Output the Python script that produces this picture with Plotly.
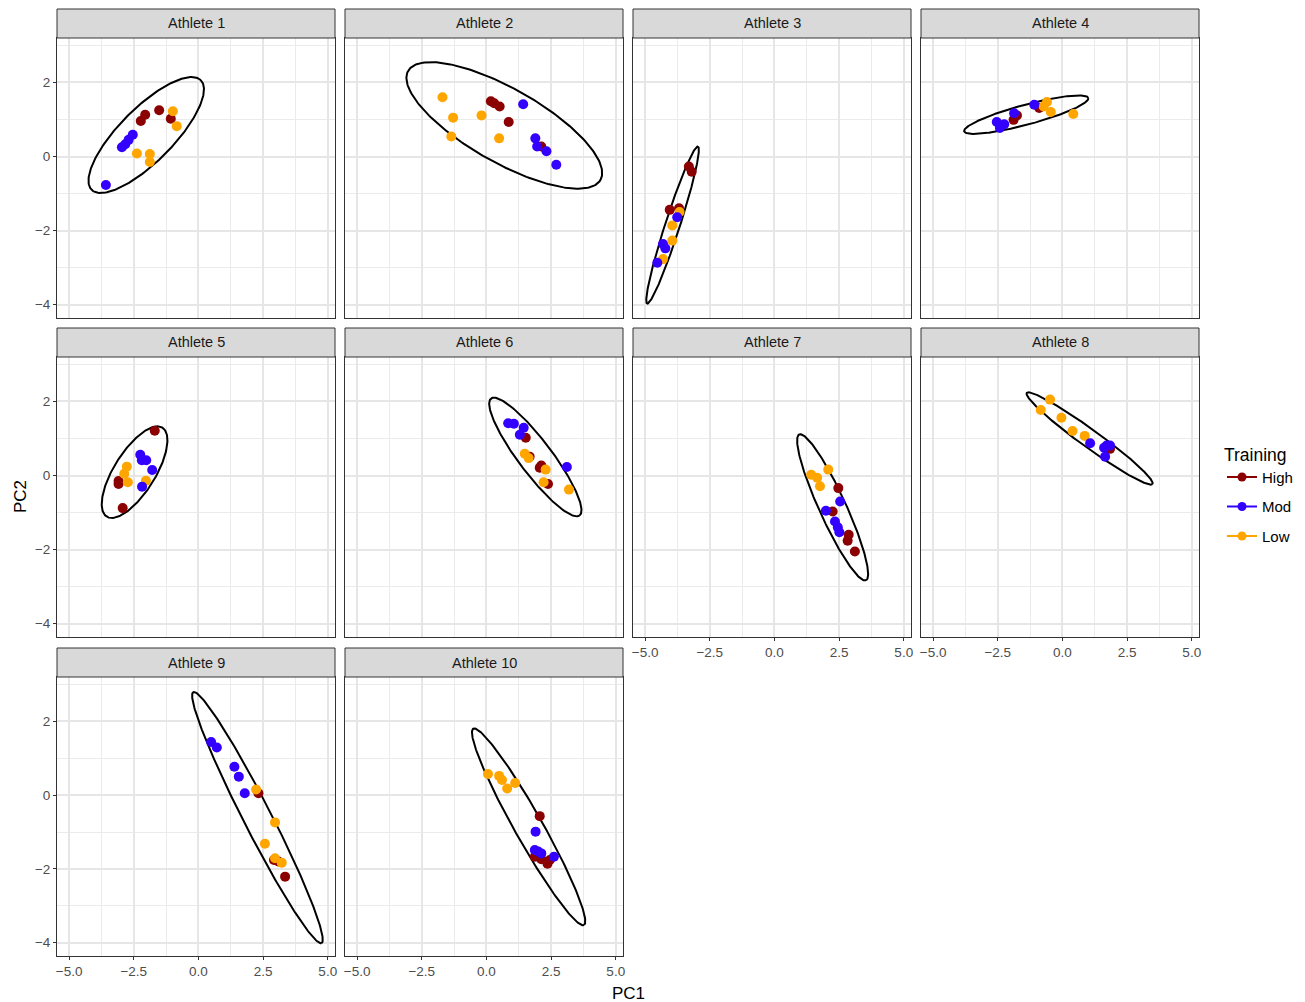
import numpy as np
import plotly.graph_objects as go

ATHLETES = ["Athlete %d" % i for i in range(1, 11)]
TRAINING = ["High", "Mod", "Low"]
COLORS = {"High": "#8B0000", "Mod": "#3300FF", "Low": "#FFA500"}

# PC scores per athlete (list index = athlete)
HIGH_PC1 = [[-2.06, -2.23, -1.52, -1.07], [0.17, 0.30, 0.51, 0.86, 2.12], [-3.31, -3.20, -4.05, -3.69],
            [-1.89, -1.76, -0.90], [-1.69, -3.09, -3.09, -2.93], [1.52, 1.67, 2.12, 2.06, 2.38],
            [2.47, 2.25, 2.87, 2.83, 3.11], [1.84, 1.78], [2.32, 2.92, 3.09, 3.35],
            [2.06, 1.87, 2.12, 2.36, 2.45]]
HIGH_PC2 = [[1.13, 0.96, 1.25, 1.02], [1.49, 1.44, 1.35, 0.93, 0.27], [-0.27, -0.41, -1.44, -1.40],
            [0.99, 1.11, 1.31], [1.21, -0.15, -0.23, -0.88], [1.02, 0.51, 0.27, 0.21, -0.23],
            [-0.34, -0.97, -1.60, -1.76, -2.05], [0.72, 0.80], [0.05, -1.76, -1.80, -2.21],
            [-0.57, -1.67, -1.74, -1.86, -1.76]]
MOD_PC1 = [[-3.58, -2.96, -2.83, -2.70, -2.54], [1.42, 1.89, 1.96, 2.32, 2.70], [-3.76, -4.31, -4.22, -4.53],
           [-2.54, -2.42, -2.25, -1.87, -1.09], [-2.25, -2.19, -2.02, -1.79, -2.18], [0.84, 1.06, 1.44, 1.29, 3.11],
           [2.54, 1.99, 2.34, 2.45, 2.51], [1.07, 1.71, 1.84, 1.61, 1.65], [0.49, 0.71, 1.39, 1.56, 1.79],
           [1.90, 1.87, 2.00, 2.12, 2.61]]
MOD_PC2 = [[-0.77, 0.25, 0.33, 0.45, 0.59], [1.41, 0.49, 0.27, 0.14, -0.22], [-1.64, -2.36, -2.48, -2.87],
           [0.93, 0.77, 0.87, 1.17, 1.40], [0.56, 0.41, 0.41, 0.15, -0.30], [1.41, 1.40, 1.29, 1.10, 0.23],
           [-0.70, -0.95, -1.24, -1.40, -1.53], [0.87, 0.81, 0.81, 0.75, 0.51], [1.44, 1.29, 0.77, 0.50, 0.05],
           [-0.99, -1.49, -1.53, -1.58, -1.67]]
LOW_PC1 = [[-0.99, -0.84, -2.38, -1.88, -1.88], [-1.70, -1.29, -1.36, -0.19, 0.49], [-3.67, -3.95, -3.95, -4.31],
           [-0.60, -0.73, -0.45, 0.42], [-2.77, -2.87, -2.73, -2.03], [1.48, 1.63, 2.29, 2.21, 3.19],
           [1.42, 1.65, 1.76, 2.08], [-0.48, -0.84, -0.04, 0.39, 0.86], [2.23, 2.96, 2.57, 2.96, 3.22],
           [0.06, 0.49, 0.60, 0.80, 1.11]]
LOW_PC2 = [[1.22, 0.82, 0.08, 0.07, -0.15], [1.60, 1.05, 0.54, 1.11, 0.49], [-1.50, -1.86, -2.27, -2.77],
           [1.47, 1.35, 1.20, 1.15], [0.24, 0.05, -0.18, -0.14], [0.59, 0.47, 0.16, -0.18, -0.38],
           [0.02, -0.06, -0.29, 0.16], [2.05, 1.77, 1.56, 1.20, 1.07], [0.15, -0.74, -1.32, -1.71, -1.83],
           [0.57, 0.52, 0.41, 0.18, 0.33]]

# ellipse: centre, semi-diameter p, conjugate semi-diameter q (data units)
ELL_CX = [-2.02, 0.69, -3.94, -1.40, -2.47, 1.89, 2.25, 1.05, 2.28, 1.63]
ELL_CY = [0.58, 0.84, -1.85, 1.13, 0.09, 0.50, -0.86, 1.00, -0.61, -0.86]
ELL_PX = [2.11, 3.72, 0.98, 2.40, 1.08, 1.71, 1.29, 2.43, 2.48, 2.14]
ELL_PY = [1.48, -1.47, 2.12, 0.45, 1.20, -1.58, -1.97, -1.23, -3.40, -2.66]
ELL_QX = [0.73, 0.70, 0.27, 0.10, 0.67, 0.51, 0.47, 0.20, 0.48, 0.47]
ELL_QY = [-0.51, 0.87, -0.06, -0.26, -0.30, 0.27, 0.15, 0.20, 0.17, 0.19]

X_TICKS = [-5.0, -2.5, 0.0, 2.5, 5.0]
Y_TICKS = [-4, -2, 0, 2]

SHIFT = 8  # page body margin
W, H = 1305 - SHIFT, 1002 - SHIFT
PX0, PX1, PY0, PY1 = 57, 1199, 9, 956   # plotting region in reference pixels
PW, PH = PX1 - PX0, PY1 - PY0
ML, MT = PX0 - SHIFT, PY0 - SHIFT
MR, MB = W - ML - PW, H - MT - PH
COLS = [(57, 335), (345, 623), (633, 911), (921, 1199)]
ROWS = [(38, 318), (357, 637), (677, 956)]
STRIP = 29

def px(x):
    return (x - PX0) / PW

def py(y):
    return (PY1 - y) / PH

FONT = "Liberation Sans, Arial, sans-serif"
fig = go.Figure()
layout = {}
shapes = []
annotations = []
t = np.linspace(0, 2 * np.pi, 240)
series = [("High", HIGH_PC1, HIGH_PC2), ("Low", LOW_PC1, LOW_PC2), ("Mod", MOD_PC1, MOD_PC2)]

for i, name in enumerate(ATHLETES):
    r, c = divmod(i, 4)
    k = i + 1
    xa = "x" if k == 1 else "x%d" % k
    ya = "y" if k == 1 else "y%d" % k
    x0, x1 = COLS[c]
    y0, y1 = ROWS[r]
    show_x = (r == 2) or (r == 1 and c >= 2)
    show_y = c == 0
    common = dict(showline=True, linecolor="#333333", linewidth=1, mirror=True,
                  showgrid=True, gridcolor="#E6E6E6", gridwidth=1.5, zeroline=False,
                  tickfont=dict(family=FONT, size=13.5, color="#4D4D4D"), ticklen=3,
                  tickcolor="#333333", tickwidth=1)
    layout["xaxis" if k == 1 else "xaxis%d" % k] = dict(
        common, domain=[px(x0), px(x1)], anchor=ya, range=[-5.47, 5.28],
        tickmode="array", tickvals=X_TICKS, tickformat=".1f",
        showticklabels=show_x, ticks="outside" if show_x else "",
        minor=dict(dtick=1.25, tick0=0, showgrid=True, gridcolor="#EBEBEB", gridwidth=1.2, ticks=""))
    layout["yaxis" if k == 1 else "yaxis%d" % k] = dict(
        common, domain=[py(y1), py(y0)], anchor=xa, range=[-4.36, 3.20],
        tickmode="array", tickvals=Y_TICKS, tickformat="d",
        showticklabels=show_y, ticks="outside" if show_y else "",
        minor=dict(dtick=1, tick0=0, showgrid=True, gridcolor="#EBEBEB", gridwidth=1.2, ticks=""))
    # strip
    shapes.append(dict(type="rect", xref="paper", yref="paper", x0=px(x0), x1=px(x1),
                       y0=py(y0), y1=py(y0 - STRIP), fillcolor="#D9D9D9",
                       line=dict(color="#333333", width=1), layer="above"))
    annotations.append(dict(text=name, xref="paper", yref="paper", x=(px(x0) + px(x1)) / 2,
                            y=py(y0 - STRIP / 2), showarrow=False, xanchor="center", yanchor="middle",
                            font=dict(family=FONT, size=14.5, color="#1A1A1A")))
    # ellipse
    ex = ELL_CX[i] + ELL_PX[i] * np.cos(t) + ELL_QX[i] * np.sin(t)
    ey = ELL_CY[i] + ELL_PY[i] * np.cos(t) + ELL_QY[i] * np.sin(t)
    fig.add_trace(go.Scatter(x=ex, y=ey, mode="lines", line=dict(color="black", width=2),
                             xaxis=xa, yaxis=ya, showlegend=False, hoverinfo="skip"))
    for lvl, xs, ys in series:
        fig.add_trace(go.Scatter(x=xs[i], y=ys[i], mode="markers",
                                 marker=dict(color=COLORS[lvl], size=10),
                                 xaxis=xa, yaxis=ya, showlegend=False, name=lvl))

for lvl in TRAINING:
    fig.add_trace(go.Scatter(x=[None], y=[None], mode="lines+markers", name=lvl,
                             legendgroup=lvl, line=dict(color=COLORS[lvl], width=2),
                             marker=dict(color=COLORS[lvl], size=9), showlegend=True))

annotations.append(dict(text="PC1", xref="paper", yref="paper", x=0.5, y=py(993),
                        showarrow=False, xanchor="center", yanchor="middle",
                        font=dict(family=FONT, size=17, color="#000000")))
annotations.append(dict(text="PC2", xref="paper", yref="paper", x=px(20), y=py(497),
                        showarrow=False, xanchor="center", yanchor="middle", textangle=-90,
                        font=dict(family=FONT, size=17, color="#000000")))

fig.update_layout(
    width=W, height=H, margin=dict(l=ML, r=MR, t=MT, b=MB),
    paper_bgcolor="white", plot_bgcolor="white",
    shapes=shapes, annotations=annotations,
    legend=dict(title=dict(text="Training", font=dict(family=FONT, size=17.5, color="#000000")),
                font=dict(family=FONT, size=15, color="#000000"),
                x=px(1222), y=py(438), xanchor="left", yanchor="top",
                tracegroupgap=7, itemwidth=30, bgcolor="rgba(0,0,0,0)"),
    **layout,
)
fig.write_html("out.html")
